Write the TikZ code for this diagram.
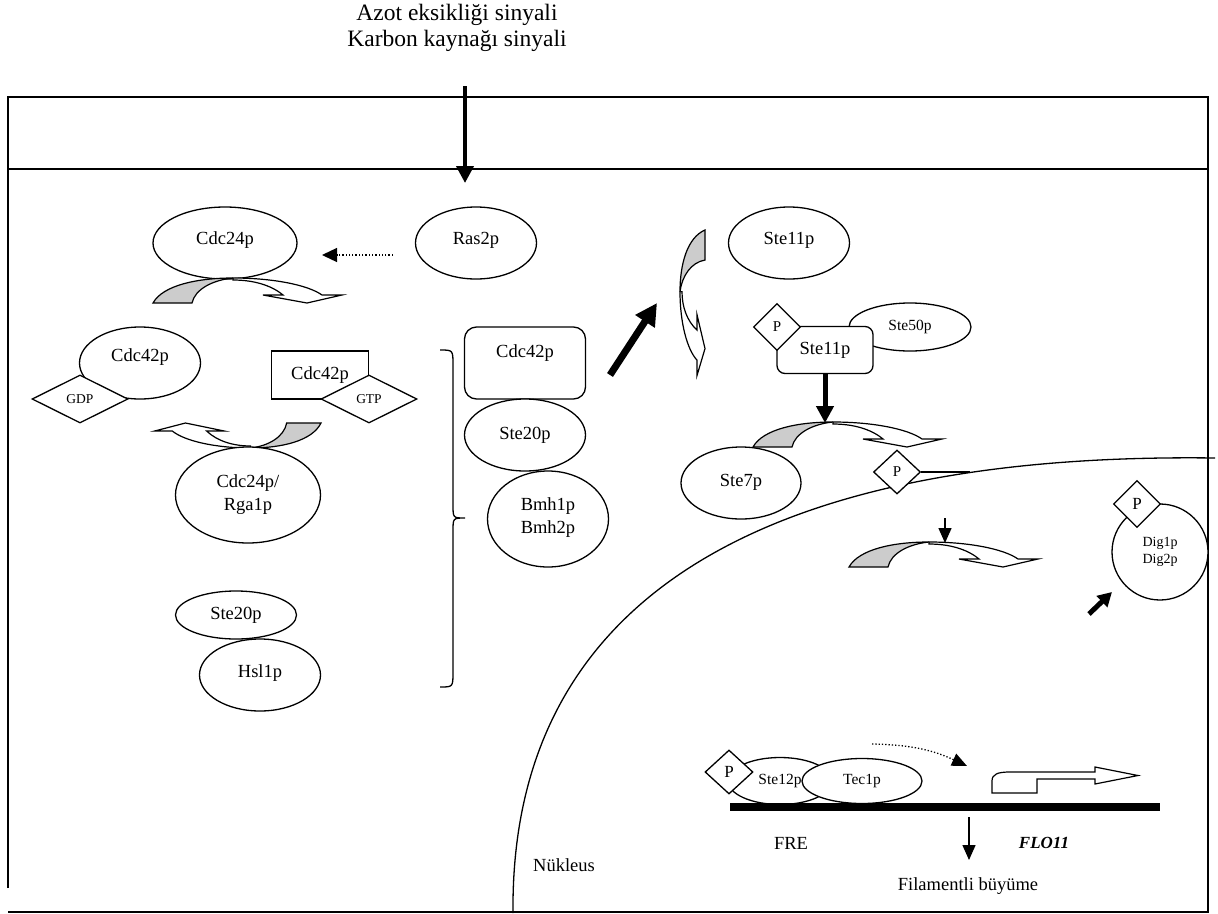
\documentclass[tikz,border=0pt]{standalone}
\usepackage{fontspec}
\setmainfont{Liberation Serif}
\usetikzlibrary{shapes.geometric,arrows.meta}
\tikzset{
  prot/.style={draw,ellipse,line width=1.3pt,fill=white,inner sep=0pt,align=center,font=\fontsize{18.5}{23}\selectfont},
  box/.style={draw,rectangle,line width=1.3pt,fill=white,inner sep=0pt,font=\fontsize{18.5}{23}\selectfont},
  phos/.style={draw,diamond,line width=1.3pt,fill=white,inner sep=0pt,minimum width=47pt,minimum height=47pt,font=\fontsize{15}{17}\selectfont},
  lbl/.style={inner sep=0pt,font=\fontsize{18.5}{23}\selectfont},
  small/.style={font=\fontsize{15.5}{17}\selectfont},
  thin arrow/.style={line width=1.4pt,-{Triangle[length=15pt,width=13pt]}},
  curvarr/.pic={
    \draw[line width=1.2pt,fill=white] (80,-25) .. controls (120,-25) and (155,-18) .. (169,-8)
      -- (189,-8) -- (154,0) -- (110,-8) -- (130,-8) .. controls (118,-18) and (100,-23) .. (80,-23) -- cycle;
    \draw[line width=1.2pt,fill=gray!40] (0,0) .. controls (10,-18) and (45,-25) .. (80,-25)
      .. controls (60,-23) and (42,-14) .. (39,0) -- cycle;
  }
}
\begin{document}
\begin{tikzpicture}[x=1pt,y=-1pt]
\useasboundingbox (0,0) rectangle (1218,913);

% cell frame
\draw[line width=1.3pt] (8,888) -- (8,97) -- (1208,97) -- (1208,912) -- (8,912);
\draw[line width=1.3pt] (8,169) -- (1208,169);
% nucleus
\draw[line width=1.3pt] (513,913) .. controls (510,600) and (760,452) .. (1215,458);

\node[inner sep=0pt,align=center,font=\fontsize{23.5}{26}\selectfont] (title) at (457,28) {Azot eksikliği sinyali\\Karbon kaynağı sinyali};
\coordinate (sigS) at (465,86);
\coordinate (sigE) at (465,183);
\draw[line width=4pt,-{Triangle[length=17pt,width=17pt]}] (sigS) -- (sigE);

% left side
\node[prot,minimum width=144pt,minimum height=72pt,text depth=10pt] (cdc24) at (225,243) {Cdc24p};
\node[prot,minimum width=121pt,minimum height=72pt,text depth=10pt] (ras2) at (476,243) {Ras2p};
\coordinate (dotS) at (393,255);
\coordinate (dotE) at (322,255);
\draw[line width=1.3pt,dotted,-{Triangle[length=15pt,width=14pt]}] (dotS) -- (dotE);
\pic at (153,303) {curvarr};

\node[prot,minimum width=121pt,minimum height=72pt,text depth=16pt] (cdc42a) at (140,363) {Cdc42p};
\node[phos,aspect=2,minimum width=96pt,minimum height=48pt,font=\fontsize{13.5}{15}\selectfont] (gdp) at (80,399) {GDP};
\node[box,minimum width=97pt,minimum height=48pt,text depth=4pt] (cdc42b) at (320,375) {Cdc42p};
\node[phos,aspect=2,minimum width=96pt,minimum height=48pt,font=\fontsize{13.5}{15}\selectfont] (gtp) at (369,399) {GTP};

\pic[rotate=180,xscale=0.88] at (321,423) {curvarr};
\node[prot,minimum width=145pt,minimum height=96pt] (rga1) at (248,495) {Cdc24p/\\Rga1p};

\node[prot,minimum width=121pt,minimum height=72pt,text depth=8pt] (hsl1) at (260,675) {Hsl1p};
\node[prot,minimum width=121pt,minimum height=48pt] (ste20a) at (236,615) {Ste20p};

% complex
\draw[line width=1.3pt] (440,350) .. controls (453,350) .. (453,365) -- (453,505)
  .. controls (453,518) .. (465,518) .. controls (453,518) .. (453,531) -- (453,672)
  .. controls (453,687) .. (440,687);
\node[box,rounded corners=12pt,minimum width=121pt,minimum height=72pt,text depth=24pt] (cdc42c) at (525,363) {Cdc42p};
\node[prot,minimum width=121pt,minimum height=72pt,text depth=4pt] (ste20b) at (525,435) {Ste20p};
\node[prot,minimum width=121pt,minimum height=96pt,text depth=6pt] (bmh) at (548,519) {Bmh1p\\Bmh2p};
\coordinate (thkS) at (610,375);
\coordinate (thkE) at (657,303);
\draw[line width=7pt,-{Triangle[length=22pt,width=22pt]}] (thkS) -- (thkE);

% MAPK module
\pic[cm={0,-1,-1,0,(0,0)},xscale=0.77] at (705,230) {curvarr};
\node[prot,minimum width=121pt,minimum height=72pt,text depth=10pt] (ste11a) at (789,243) {Ste11p};
\node[prot,small,minimum width=122pt,minimum height=48pt] (ste50) at (910,327) {Ste50p};
\node[box,rounded corners=8pt,minimum width=96pt,minimum height=47pt] (ste11b) at (825,350) {Ste11p};
\node[phos] (p1) at (777,327) {P};
\coordinate (mapk) at (825,423);
\draw[line width=5pt,-{Triangle[length=17pt,width=17pt]}] (ste11b.south) -- (mapk);

\node[prot,minimum width=120pt,minimum height=72pt,text depth=6pt] (ste7) at (741,483) {Ste7p};
\pic at (753,447) {curvarr};
\node[phos,minimum height=44pt] (p2) at (897,472) {P};
\coordinate (nucl) at (970,472);
\draw[line width=1.3pt] (p2.east) -- (nucl);

% nucleus
\coordinate (kssS) at (945,518);
\coordinate (kssE) at (945,543);
\draw[thin arrow] (kssS) -- (kssE);
\pic at (849,567) {curvarr};

\node[draw,circle,line width=1.3pt,fill=white,minimum size=96pt,inner sep=0pt,align=center,font=\fontsize{14}{17}\selectfont] (dig) at (1160,552) {Dig1p\\Dig2p};
\node[phos,font=\fontsize{17}{19}\selectfont] (p3) at (1137,504) {P};
\coordinate (digS) at (1089,614);
\coordinate (digE) at (1112,592);
\draw[line width=5pt,-{Triangle[length=14pt,width=15pt]}] (digS) -- (digE);

\node[prot,small,minimum width=104pt,minimum height=47pt] (ste12) at (780,781) {Ste12p};
\node[prot,small,minimum width=120pt,minimum height=45pt] (tec1) at (862,781) {Tec1p};
\node[phos,minimum width=48pt,minimum height=44pt,font=\fontsize{17}{19}\selectfont] (p4) at (729,772) {P};
\draw[line width=8pt] (730,807) -- (1160,807);
\coordinate (tfS) at (872,744);
\coordinate (tfE) at (967,766);
\draw[line width=1.3pt,dotted,-{Triangle[length=15pt,width=13pt]}] (tfS) to[bend left=12] (tfE);
\draw[line width=1.2pt,fill=white] (992,793) -- (992,781) .. controls (992,774) and (998,772) .. (1010,772)
  -- (1095,772) -- (1095,767) -- (1138,775.5) -- (1095,784) -- (1095,779) -- (1037,779) -- (1037,793) -- cycle;
\coordinate (filS) at (969,817);
\coordinate (filE) at (969,860);
\draw[thin arrow] (filS) -- (filE);

\node[lbl] (fre) at (791,843) {FRE};
\node[lbl,font=\fontsize{17}{20}\selectfont\bfseries\itshape] (flo) at (1044,843) {FLO11};
\node[lbl] (fil) at (968,886) {Filamentli büyüme};
\node[lbl] (nuk) at (564,865) {Nükleus};
\end{tikzpicture}
\end{document}
